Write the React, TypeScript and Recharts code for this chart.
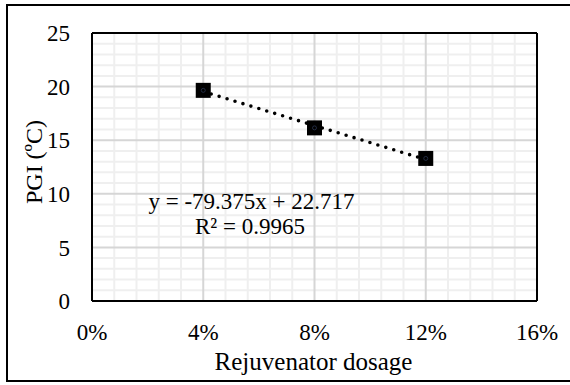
import { ComposedChart, Line, Scatter, XAxis, YAxis, ReferenceLine } from 'recharts';

// rejuvenator dosage (fraction) vs PGI in degrees C
const dosage = [0.04, 0.08, 0.12];
const pgi = [19.65, 16.15, 13.3];

// linear fit reported on the chart
const slope = -79.375;
const intercept = 22.717;
const rSquared = 0.9965;

const xTicks = [0, 0.04, 0.08, 0.12, 0.16];
const yTicks = [0, 5, 10, 15, 20, 25];
const xMinor = [
  0.008, 0.016, 0.024, 0.032,
  0.048, 0.056, 0.064, 0.072,
  0.088, 0.096, 0.104, 0.112,
  0.128, 0.136, 0.144, 0.152,
];
const yMinor = [1, 2, 3, 4, 6, 7, 8, 9, 11, 12, 13, 14, 16, 17, 18, 19, 21, 22, 23, 24];

const FONT = '"Times New Roman", "Liberation Serif", serif';

const points = dosage.map((x, i) => ({ x, pgi: pgi[i] }));
const trend = [dosage[0], dosage[dosage.length - 1]].map(x => ({ x, fit: slope * x + intercept }));

const SquareMarker = (props: any) => {
  const { cx, cy } = props;
  if (cx == null || cy == null) return null;
  return (
    <g>
      <rect x={cx - 7.5} y={cy - 7.5} width={15} height={15} fill="#000" />
      <circle cx={cx} cy={cy} r={2} fill="none" stroke="#2a3550" strokeWidth={0.8} />
    </g>
  );
};

export default function App() {
  return (
    <div style={{ position: 'absolute', left: 0, top: 0, width: 570, height: 385, overflow: 'hidden', background: '#fff' }}>
      <div
        style={{
          position: 'absolute', left: 6, top: 4, width: 600, height: 378,
          border: '2px solid #000', boxSizing: 'border-box',
        }}
      />
      <div style={{ position: 'absolute', left: 0, top: 0 }}>
        <ComposedChart width={570} height={385} margin={{ top: 33, right: 33, bottom: 54, left: 62 }}>
          <XAxis
            type="number"
            dataKey="x"
            domain={[0, 0.16]}
            ticks={xTicks}
            tickFormatter={v => `${Math.round(v * 100)}%`}
            axisLine={false}
            tickLine={false}
            tickSize={0}
            tickMargin={23}
            height={30}
            tick={{ fill: '#000', fontSize: 23, fontFamily: FONT }}
          />
          <YAxis
            type="number"
            domain={[0, 25]}
            ticks={yTicks}
            axisLine={false}
            tickLine={false}
            tickSize={0}
            tickMargin={22}
            width={30}
            tick={{ fill: '#000', fontSize: 23, fontFamily: FONT }}
          />
          {xMinor.map(v => (
            <ReferenceLine key={`xm${v}`} x={v} stroke="#efefef" strokeWidth={2} />
          ))}
          {yMinor.map(v => (
            <ReferenceLine key={`ym${v}`} y={v} stroke="#efefef" strokeWidth={2} />
          ))}
          {xTicks.slice(1, -1).map(v => (
            <ReferenceLine key={`xM${v}`} x={v} stroke="#d6d6d6" strokeWidth={2} />
          ))}
          {yTicks.slice(1, -1).map(v => (
            <ReferenceLine key={`yM${v}`} y={v} stroke="#d6d6d6" strokeWidth={2} />
          ))}
          {/* plot area frame */}
          <ReferenceLine x={0} stroke="#000" strokeWidth={2} />
          <ReferenceLine x={0.16} stroke="#000" strokeWidth={2} />
          <ReferenceLine y={0} stroke="#000" strokeWidth={2} />
          <ReferenceLine y={25} stroke="#000" strokeWidth={2} />
          <Line
            data={trend}
            dataKey="fit"
            type="linear"
            stroke="#000"
            strokeWidth={3.6}
            strokeDasharray="0 8.3"
            strokeLinecap="round"
            dot={false}
            activeDot={false}
            isAnimationActive={false}
          />
          <Scatter data={points} dataKey="pgi" shape={<SquareMarker />} isAnimationActive={false} />
        </ComposedChart>
      </div>
      <svg width={570} height={385} style={{ position: 'absolute', left: 0, top: 0, pointerEvents: 'none' }}>
        <g fontFamily={FONT} fill="#000">
          <text x={313.5} y={370} fontSize={25} textAnchor="middle">Rejuvenator dosage</text>
          <text x={42} y={162} fontSize={24} textAnchor="middle" transform="rotate(-90 42 162)">PGI (ºC)</text>
          <text x={251.5} y={209} fontSize={23} textAnchor="middle">
            {`y = ${slope}x + ${intercept}`}
          </text>
          <text x={250} y={234} fontSize={23} textAnchor="middle">
            {`R² = ${rSquared}`}
          </text>
        </g>
      </svg>
    </div>
  );
}
